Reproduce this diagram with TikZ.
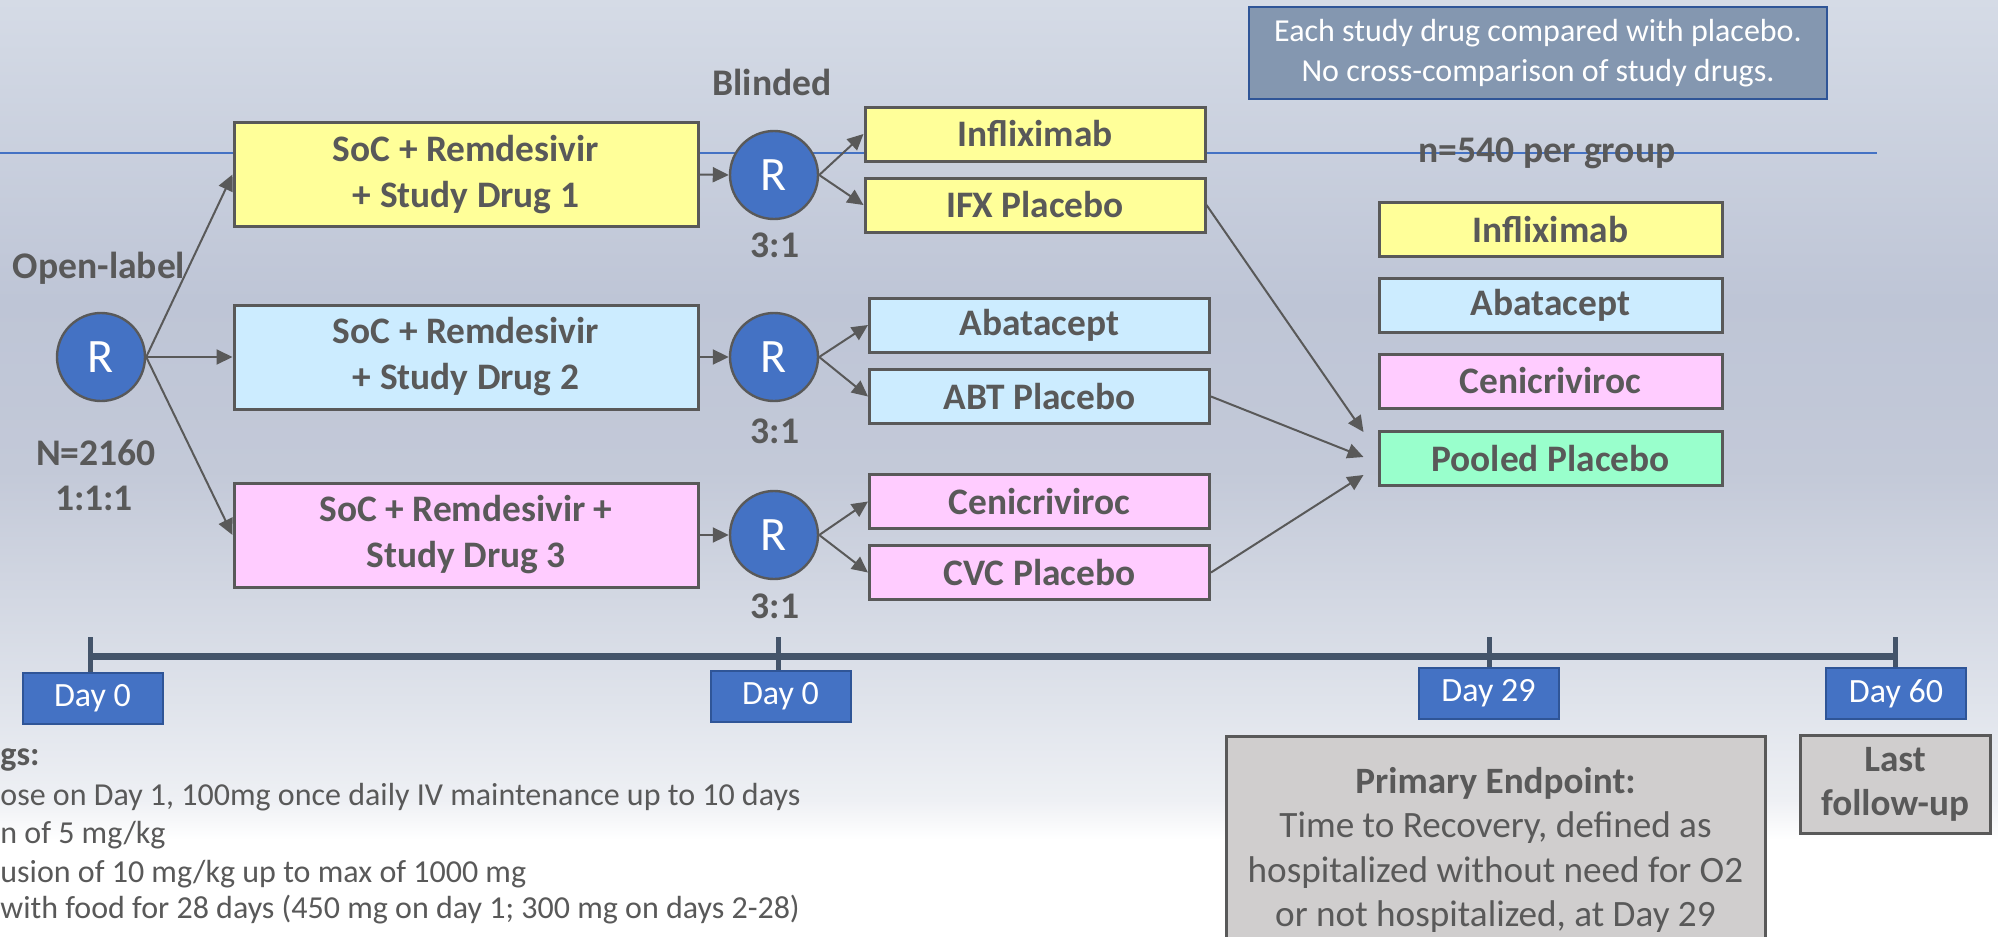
\documentclass[tikz,border=0pt]{standalone}
\usepackage{fontspec}
\setmainfont{Carlito}
\usetikzlibrary{arrows.meta,calc}
\definecolor{txtgray}{HTML}{595959}
\definecolor{bordergray}{HTML}{595959}
\definecolor{yel}{HTML}{FFFF99}
\definecolor{lblue}{HTML}{CCECFF}
\definecolor{pinkf}{HTML}{FFCCFF}
\definecolor{greenf}{HTML}{99FFCC}
\definecolor{rblue}{HTML}{4472C4}
\definecolor{dblue}{HTML}{2F5597}
\definecolor{noteblue}{HTML}{8497B0}
\definecolor{tlcol}{HTML}{44546A}
\definecolor{epgray}{HTML}{D0CECE}
\definecolor{bgw}{HTML}{FFFFFF}
\definecolor{bga}{HTML}{EEF0F4}
\definecolor{bgb}{HTML}{DFE3EB}
\definecolor{bgc}{HTML}{C3C9D8}
\definecolor{bgd}{HTML}{BEC5D6}
\definecolor{bge}{HTML}{D5DBE6}
\pgfdeclareverticalshading{bgshade}{100bp}{color(0bp)=(bgw); color(30.18bp)=(bgw); color(32.31bp)=(bga); color(37.65bp)=(bgb); color(49.92bp)=(bgc); color(58.99bp)=(bgd); color(75bp)=(bge); color(100bp)=(bge)}
\begin{document}
\begin{tikzpicture}[x=0.5pt,y=-0.5pt,
  armbox/.style={draw=bordergray, line width=1.5pt, inner sep=0pt, align=center, text=txtgray,
    font=\bfseries\fontsize{18.7}{23}\selectfont, minimum width=232pt, minimum height=52pt},
  smallbox/.style={draw=bordergray, line width=1.5pt, inner sep=0pt, text=txtgray,
    font=\bfseries\fontsize{18.7}{23}\selectfont, minimum width=170pt, minimum height=27pt},
  rcirc/.style={circle, fill=rblue, draw=bordergray, line width=1.2pt, minimum size=44pt, inner sep=0pt,
    text=white, font=\fontsize{24}{28}\selectfont},
  lbl/.style={text=txtgray, font=\bfseries\fontsize{18.8}{23}\selectfont, inner sep=0pt},
  daybox/.style={fill=rblue, draw=dblue, line width=1pt, inner sep=0pt, text=white,
    font=\fontsize{17}{20}\selectfont, minimum width=70pt, minimum height=25.5pt},
  notebox/.style={fill=noteblue, draw=dblue, line width=1.2pt, inner sep=0pt, text=white, align=center,
    font=\fontsize{16}{20}\selectfont, minimum width=289pt, minimum height=46pt},
  graybox/.style={fill=epgray, draw=bordergray, line width=1.5pt, inner sep=0pt, text=txtgray, align=center},
  bodytxt/.style={text=txtgray, font=\fontsize{16}{19}\selectfont, inner sep=0pt, anchor=base west},
  arr/.style={draw=bordergray, line width=1pt, -{Triangle[length=8pt,width=7.5pt]}},
  tl/.style={draw=tlcol, line width=3.5pt},
  tick/.style={draw=tlcol, line width=2.5pt}
]
\shade[shading=bgshade] (0,0) rectangle (1998,937);
\useasboundingbox (0,0) rectangle (1998,937);

% thin blue line
\draw[rblue, line width=0.7pt] (0,153) -- (1877,153);

% note
\node[notebox] (note) at (1538,53) {Each study drug compared with placebo.\\No cross-comparison of study drugs.};

% left randomisation
\node[rcirc] (rl) at (101,357) {R};
\node[lbl, anchor=base] (open) at (99,278) {Open-label};
\node[lbl, anchor=base] (nn) at (96,465) {N=2160};
\node[lbl, anchor=base] (ratio) at (94,510) {1:1:1};

% arms
\node[armbox, fill=yel] (arm1) at (466,174.5) {SoC + Remdesivir\\+ Study Drug 1};
\node[armbox, fill=lblue] (arm2) at (466,357) {SoC + Remdesivir\\+ Study Drug 2};
\node[armbox, fill=pinkf] (arm3) at (466,535) {SoC + Remdesivir +\\Study Drug 3};

% second randomisations
\node[rcirc] (r1) at (774,175) {R};
\node[rcirc] (r2) at (774,357) {R};
\node[rcirc] (r3) at (774,535) {R};
\node[lbl, anchor=base] (blind) at (772,95) {Blinded};
\node[lbl, anchor=base] (q1) at (775,257) {3:1};
\node[lbl, anchor=base] (q2) at (775,443) {3:1};
\node[lbl, anchor=base] (q3) at (775,618) {3:1};

% treatment boxes
\node[smallbox, fill=yel] (inf1) at (1035,134) {Infliximab};
\node[smallbox, fill=yel] (ifx) at (1035,205) {IFX Placebo};
\node[smallbox, fill=lblue] (aba1) at (1039.5,325) {Abatacept};
\node[smallbox, fill=lblue] (abt) at (1039.5,396.5) {ABT Placebo};
\node[smallbox, fill=pinkf] (cen1) at (1039.5,501.5) {Cenicriviroc};
\node[smallbox, fill=pinkf] (cvc) at (1039.5,572.5) {CVC Placebo};

% pooled groups
\node[lbl, anchor=base] (nper) at (1547,162) {n=540 per group};
\node[smallbox, fill=yel, minimum width=171.5pt] (inf2) at (1550.5,229.5) {Infliximab};
\node[smallbox, fill=lblue, minimum width=171.5pt] (aba2) at (1550.5,305.5) {Abatacept};
\node[smallbox, fill=pinkf, minimum width=171.5pt] (cen2) at (1550.5,381) {Cenicriviroc};
\node[smallbox, fill=greenf, minimum width=171.5pt] (pooled) at (1550.5,458.5) {Pooled Placebo};

\coordinate (p1) at ($(pooled.west)+(-14,-26.5)$);
\coordinate (p2) at ($(pooled.west)+(-14,-1.5)$);
\coordinate (p3) at ($(pooled.west)+(-14,16.5)$);

% arrows
\draw[arr] (rl.east) -- (arm1.west);
\draw[arr] (rl.east) -- (arm2.west);
\draw[arr] (rl.east) -- (arm3.west);
\draw[arr] (arm1.east) -- (r1.west);
\draw[arr] (arm2.east) -- (r2.west);
\draw[arr] (arm3.east) -- (r3.west);
\draw[arr] (r1.east) -- (inf1.west);
\draw[arr] (r1.east) -- (ifx.west);
\draw[arr] (r2.east) -- (aba1.west);
\draw[arr] (r2.east) -- (abt.west);
\draw[arr] (r3.east) -- (cen1.west);
\draw[arr] (r3.east) -- (cvc.west);
\draw[arr] (ifx.east) -- (p1);
\draw[arr] (abt.east) -- (p2);
\draw[arr] (cvc.east) -- (p3);

% timeline
\coordinate (t0) at (90,656);
\coordinate (t1) at (778,656);
\coordinate (t2) at (1489,656);
\coordinate (t3) at (1895,656);
\draw[tl] (t0) -- (t3);
\foreach \t in {t0,t1,t2,t3} {\draw[tick] ($(\t)+(0,-19)$) -- ($(\t)+(0,16)$);}
\node[daybox] (d1) at (92.5,698.5) {Day 0};
\node[daybox] (d2) at (780.5,696) {Day 0};
\node[daybox] (d29) at (1488.5,693.5) {Day 29};
\node[daybox] (d60) at (1896,693.5) {Day 60};

% endpoint boxes
\node[graybox, anchor=north, minimum width=269.5pt, minimum height=106pt] (ep) at (1495.5,735) {};
\node[text=txtgray, align=center, inner sep=0pt, font=\fontsize{18.6}{22.2}\selectfont] (ept) at (1495.5,850)
  {\textbf{Primary Endpoint:}\\Time to Recovery, defined as\\hospitalized without need for O2\\or not hospitalized, at Day 29};
\node[graybox, minimum width=95pt, minimum height=49pt, font=\bfseries\fontsize{18.6}{22}\selectfont] (last) at (1895,784) {Last\\follow-up};

% bottom-left text
\node[bodytxt, font=\bfseries\fontsize{17}{20}\selectfont] (dr) at (0,765) {gs:};
\node[bodytxt] (b1) at (0,805) {ose on Day 1, 100mg once daily IV maintenance up to 10 days};
\node[bodytxt] (b2) at (0,843) {n of 5 mg/kg};
\node[bodytxt] (b3) at (0,882) {usion of 10 mg/kg up to max of 1000 mg};
\node[bodytxt] (b4) at (0,918) {with food for 28 days (450 mg on day 1; 300 mg on days 2-28)};
\end{tikzpicture}
\end{document}
